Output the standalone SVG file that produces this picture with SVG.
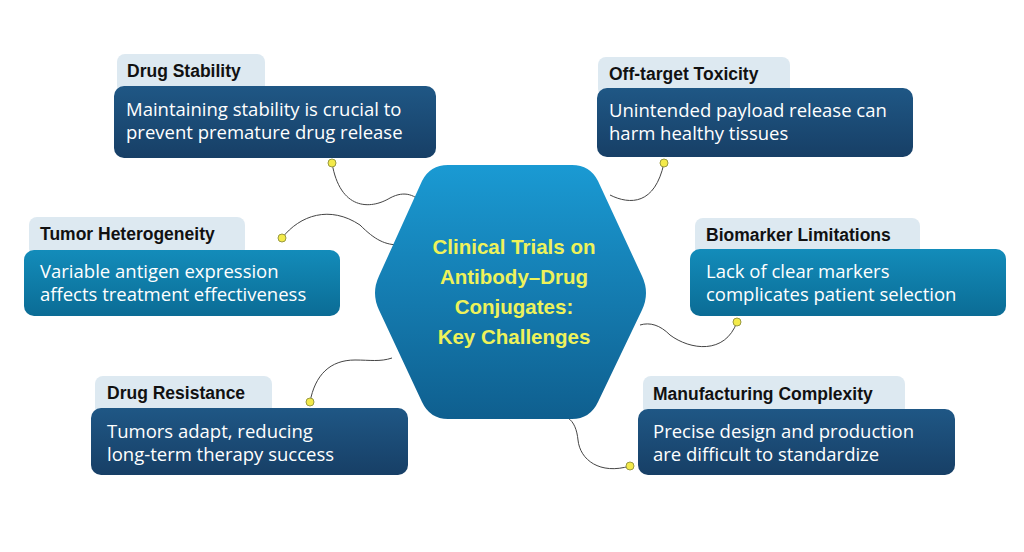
<svg xmlns="http://www.w3.org/2000/svg" width="1024" height="552" viewBox="0 0 1024 552">
<defs>
<linearGradient id="hex" x1="0" y1="0" x2="0" y2="1"><stop offset="0" stop-color="#1a9ad3"/><stop offset="1" stop-color="#0f5f8f"/></linearGradient>
<linearGradient id="navy" x1="0" y1="0" x2="0" y2="1"><stop offset="0" stop-color="#1f5785"/><stop offset="1" stop-color="#173f66"/></linearGradient>
<linearGradient id="teal" x1="0" y1="0" x2="0" y2="1"><stop offset="0" stop-color="#138cba"/><stop offset="1" stop-color="#0b6c95"/></linearGradient>
<style>
.tab{fill:#dde9f1}
.t{font-family:"Liberation Sans",Arial,sans-serif;font-weight:bold;font-size:17.5px;fill:#111}
.b{font-family:"Open Sans","Liberation Sans",sans-serif;font-size:18.5px;fill:#fff}
.c{fill:none;stroke:#444;stroke-width:1}
.d{fill:#f3ea4a;stroke:#9a9a40;stroke-width:1}
.h{font-family:"Liberation Sans",Arial,sans-serif;font-weight:bold;font-size:20.5px;fill:#eef25a;text-anchor:middle}
</style>
</defs>
<rect width="1024" height="552" fill="#fff"/>
<g id="connectors">
<path class="c" d="M332,163 C340,210 370,210 390,198 C405,190 415,195 425,205"/>
<path class="c" d="M664,163 C655,205 630,205 610,195"/>
<path class="c" d="M282,238 C300,215 330,205 360,225 C375,240 385,245 400,245"/>
<path class="c" d="M737,322 C725,355 690,350 670,335 C660,325 650,322 640,325"/>
<path class="c" d="M310,402 C315,375 330,360 355,360 C370,360 380,362 392,358"/>
<path class="c" d="M630,466 C600,475 580,460 578,440 C577,430 574,422 568,418"/>
<circle class="d" cx="332" cy="163" r="4"/><circle class="d" cx="664" cy="163" r="4"/>
<circle class="d" cx="282" cy="238" r="4"/><circle class="d" cx="737" cy="322" r="4"/>
<circle class="d" cx="310" cy="402" r="4"/><circle class="d" cx="630" cy="466" r="4"/>
</g>
<g id="hub">
<path d="M448,165 L572,165 Q590,165 598,181 L642,276 Q650,293 642,310 L598,402 Q590,419 572,419 L448,419 Q430,419 422,402 L379,310 Q371,293 379,276 L422,181 Q430,165 448,165 Z" fill="url(#hex)"/>
<text class="h" x="514" y="254">Clinical Trials on</text>
<text class="h" x="514" y="284">Antibody–Drug</text>
<text class="h" x="514" y="314">Conjugates:</text>
<text class="h" x="514" y="344">Key Challenges</text>
</g>
<g id="n1"><rect class="tab" x="117" y="54" width="148" height="40" rx="8"/><rect x="114" y="86" width="322" height="72" rx="10" fill="url(#navy)"/>
<text class="t" x="127" y="77">Drug Stability</text><text class="b" x="126" y="116">Maintaining stability is crucial to</text><text class="b" x="126" y="139">prevent premature drug release</text></g>
<g id="n2"><rect class="tab" x="598" y="57" width="192" height="40" rx="8"/><rect x="597" y="88" width="316" height="69" rx="10" fill="url(#navy)"/>
<text class="t" x="609" y="80">Off-target Toxicity</text><text class="b" x="609" y="117">Unintended payload release can</text><text class="b" x="609" y="140">harm healthy tissues</text></g>
<g id="n3"><rect class="tab" x="29" y="217" width="216" height="40" rx="8"/><rect x="24" y="250" width="316" height="66" rx="10" fill="url(#teal)"/>
<text class="t" x="40" y="240">Tumor Heterogeneity</text><text class="b" x="40" y="278">Variable antigen expression</text><text class="b" x="40" y="301">affects treatment effectiveness</text></g>
<g id="n4"><rect class="tab" x="695" y="218" width="225" height="40" rx="8"/><rect x="690" y="249" width="316" height="67" rx="10" fill="url(#teal)"/>
<text class="t" x="706" y="241">Biomarker Limitations</text><text class="b" x="706" y="278">Lack of clear markers</text><text class="b" x="706" y="301">complicates patient selection</text></g>
<g id="n5"><rect class="tab" x="95" y="376" width="177" height="40" rx="8"/><rect x="91" y="408" width="317" height="67" rx="10" fill="url(#navy)"/>
<text class="t" x="107" y="399">Drug Resistance</text><text class="b" x="107" y="438">Tumors adapt, reducing</text><text class="b" x="107" y="461">long-term therapy success</text></g>
<g id="n6"><rect class="tab" x="643" y="376" width="262" height="40" rx="8"/><rect x="638" y="409" width="317" height="66" rx="10" fill="url(#navy)"/>
<text class="t" x="653" y="400">Manufacturing Complexity</text><text class="b" x="653" y="438">Precise design and production</text><text class="b" x="653" y="461">are difficult to standardize</text></g>
</svg>
